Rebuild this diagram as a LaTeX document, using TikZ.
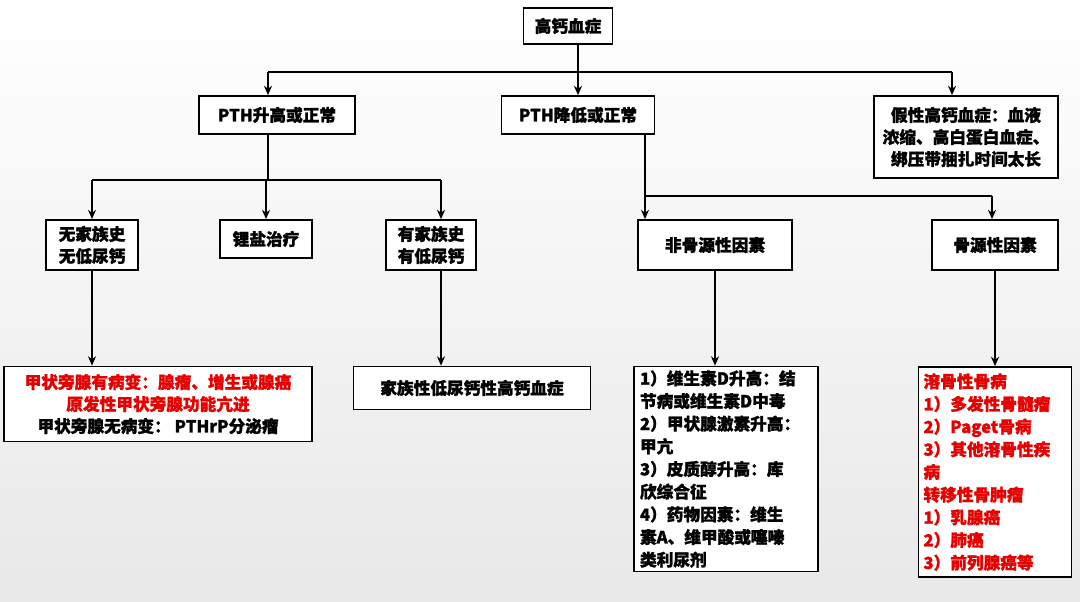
\documentclass[tikz,border=0pt]{standalone}
\usepackage{fontspec}
\setmainfont{Noto Sans CJK SC}[FakeBold=1.3]
\usetikzlibrary{arrows.meta}
\definecolor{myred}{RGB}{230,0,0}
\begin{document}
\begin{tikzpicture}[x=0.75pt,y=-0.75pt,
 box/.style={draw=black,line width=1.3pt,fill=white,inner sep=0pt,font=\fontsize{12.5}{16.5}\selectfont\bfseries,align=center},
 arr/.style={line width=1.3pt,-{Stealth[length=7pt,width=6pt]}},
 ln/.style={line width=1.3pt}]
\shade[top color=white,bottom color=black!9] (0,0) rectangle (1080,602);
\useasboundingbox (0,0) rectangle (1080,602);
\node[box,minimum width=89*0.75pt,minimum height=36*0.75pt] (top) at (568,26) {高钙血症};
\node[box,minimum width=156*0.75pt,minimum height=38*0.75pt] (up) at (277,115) {PTH升高或正常};
\node[box,minimum width=153*0.75pt,minimum height=38*0.75pt] (down) at (578,115) {PTH降低或正常};
\node[box,minimum width=184*0.75pt,minimum height=82*0.75pt] (fake) at (966,137) {假性高钙血症：血液\\浓缩、高白蛋白血症、\\绑压带捆扎时间太长};
\node[box,minimum width=92*0.75pt,minimum height=50*0.75pt] (nofam) at (92,245) {无家族史\\无低尿钙};
\node[box,minimum width=92*0.75pt,minimum height=38*0.75pt] (li) at (266,239) {锂盐治疗};
\node[box,minimum width=90*0.75pt,minimum height=50*0.75pt] (fam) at (431,245) {有家族史\\有低尿钙};
\node[box,minimum width=154*0.75pt,minimum height=50*0.75pt] (nonbone) at (715,245) {非骨源性因素};
\node[box,minimum width=126*0.75pt,minimum height=50*0.75pt] (bone) at (995,245) {骨源性因素};
\node[box,minimum width=308*0.75pt,minimum height=75*0.75pt] (para) at (158,404) {\textcolor{myred}{甲状旁腺有病变：腺瘤、增生或腺癌}\\\textcolor{myred}{原发性甲状旁腺功能亢进}\\甲状旁腺无病变： PTHrP分泌瘤};
\node[box,minimum width=237*0.75pt,minimum height=43*0.75pt] (fhh) at (472,388) {家族性低尿钙性高钙血症};
\node[box,minimum width=184*0.75pt,minimum height=205*0.75pt,align=left,text width=172*0.75pt,font=\fontsize{12.5}{17}\selectfont\bfseries] (list1) at (726,469) {1）维生素D升高：结\\节病或维生素D中毒\\2）甲状腺激素升高：\\甲亢\\3）皮质醇升高：库\\欣综合征\\4）药物因素：维生\\素A、维甲酸或噻嗪\\类利尿剂};
\node[box,minimum width=153*0.75pt,minimum height=210*0.75pt,align=left,text width=143*0.75pt,text=myred,font=\fontsize{12.5}{17}\selectfont\bfseries] (list2) at (995,472) {溶骨性骨病\\1）多发性骨髓瘤\\2）Paget骨病\\3）其他溶骨性疾\\病\\转移性骨肿瘤\\1）乳腺癌\\2）肺癌\\3）前列腺癌等};
\coordinate (t1) at (578,44);
\coordinate (b0) at (268,72);
\coordinate (b1) at (952,72);
\coordinate (c0) at (92,180);
\coordinate (c1) at (441,180);
\coordinate (d0) at (645,134);
\coordinate (d1) at (992,196);
% top level
\draw[ln] (b0) -- (b1);
\draw[arr] (t1) -- (t1 |- down.north);
\draw[arr] (b0) -- (b0 |- up.north);
\draw[arr] (b1) -- (b1 |- fake.north);
% PTH up
\draw[ln] (b0 |- up.south) -- (b0 |- c0);
\draw[ln] (c0) -- (c1);
\draw[arr] (c0) -- (nofam.north);
\draw[arr] (li.north |- c0) -- (li.north);
\draw[arr] (c1) -- (c1 |- fam.north);
% PTH down
\draw[arr] (d0) -- (d0 |- nonbone.north);
\draw[ln] (d0 |- d1) -- (d1);
\draw[arr] (d1) -- (d1 |- bone.north);
% lower
\draw[arr] (nofam.south) -- (nofam.south |- para.north);
\draw[arr] (c1 |- fam.south) -- (c1 |- fhh.north);
\draw[arr] (nonbone.south) -- (nonbone.south |- list1.north);
\draw[arr] (bone.south) -- (bone.south |- list2.north);
\end{tikzpicture}
\end{document}
